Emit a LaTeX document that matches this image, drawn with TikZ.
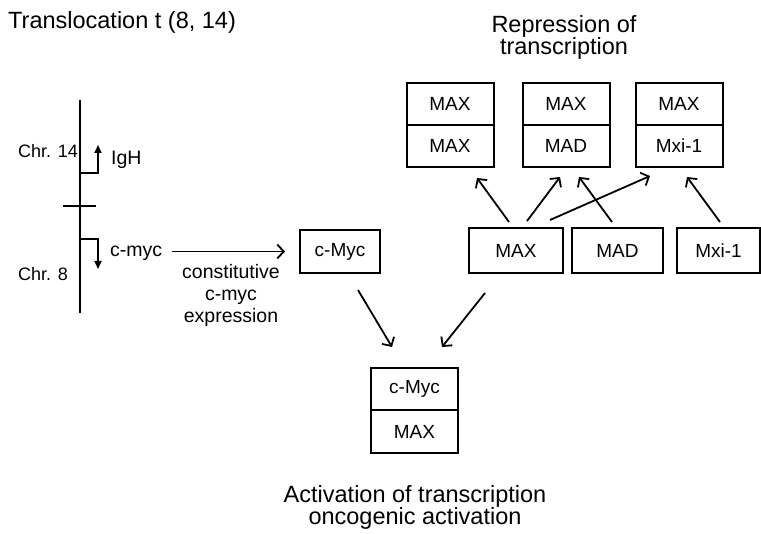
\documentclass[tikz,border=0pt]{standalone}
\usepackage{fontspec}
\setmainfont{Liberation Sans}
\usetikzlibrary{arrows.meta, positioning}

\begin{document}
\begin{tikzpicture}[
  x=1pt, y=-1pt,
  cell/.style={rectangle, draw, line width=2pt, outer sep=0pt, inner sep=0pt, minimum width=87pt, minimum height=42pt, font=\fontsize{19}{21}\selectfont},
  prot/.style={cell, minimum height=45pt},
  arr/.style={line width=1.8pt, -{Straight Barb[length=6.5pt,width=14pt]}},
  gene/.style={line width=1.8pt, -{Triangle[length=8pt,width=7pt]}},
  lbl/.style={font=\fontsize{19.5}{22}\selectfont, align=center, inner sep=0pt},
  chr/.style={font=\fontsize{18}{20}\selectfont, inner sep=0pt},
  head/.style={font=\fontsize{23.5}{21.5}\selectfont, align=center, inner sep=0pt}
]
\useasboundingbox (0,0) rectangle (761,534);

% Title
\node[head, anchor=base west] (title) at (8,29) {Translocation t (8, 14)};

% Chromosome
\coordinate (chrtop) at (80,100);
\coordinate (chrbot) at (80,313);
\coordinate (brk) at (80,206);
\draw[line width=2pt] (chrtop) -- (chrbot);
\draw[line width=1.6pt] ([xshift=-17pt]brk) -- ([xshift=16pt]brk);
\coordinate (ighstart) at (80,173);
\coordinate (mycstart) at (80,239);
\draw[gene] (ighstart) -| ++(18,-28);
\draw[gene] (mycstart) -| ++(18,30);
\node[chr, anchor=base west] (chr14) at (18,158) {Chr. 14};
\node[chr, anchor=base west] (chr8) at (18,281) {Chr. 8};
\node[lbl, anchor=base west] (igh) at (111,165) {IgH};
\node[lbl, anchor=base west] (cmycgene) at (110,257) {c-myc};

% c-Myc protein
\node[prot, minimum width=80pt, minimum height=43pt] (cmyc) at (340,251.5) {c-Myc};
\node[lbl, anchor=base] (expr) at (231,323) {constitutive\\c-myc\\expression};

% Partners
\node[prot, minimum width=94pt] (max) at (516,250.5) {MAX};
\node[prot, minimum width=91pt, right=9pt of max] (mad) {MAD};
\node[prot, minimum width=83pt, right=14pt of mad] (mxi) {Mxi-1};

% Repressor dimers
\node[cell] (mmT) at (450,104) {MAX};
\node[cell, below=0pt of mmT] (mmB) {MAX};
\node[cell] (mdT) at (566,104) {MAX};
\node[cell, below=0pt of mdT] (mdB) {MAD};
\node[cell] (mxT) at (679,104) {MAX};
\node[cell, below=0pt of mxT] (mxB) {Mxi-1};
\node[head, anchor=base] (repr) at (564,55) {Repression of\\transcription};

% Activator dimer
\node[cell] (cxT) at (414.5,389) {c-Myc};
\node[cell, below=0pt of cxT, minimum height=43pt] (cxB) {MAX};
\node[head, anchor=base] (activ) at (415,525) {Activation of transcription\\oncogenic activation};

% Arrows
\draw[arr, shorten <=10pt] (cmycgene.east |- cmyc.west) -- ([xshift=-15pt]cmyc.west);
\draw[arr] ([xshift=-7pt,yshift=6pt]max.north) -- ([xshift=27pt,yshift=-11pt]mmB.south);
\draw[arr] ([xshift=11pt,yshift=7pt]max.north) -- ([xshift=-6pt,yshift=-10pt]mdB.south);
\draw[arr] ([xshift=34pt,yshift=8pt]max.north) -- ([xshift=-29pt,yshift=-9pt]mxB.south);
\draw[arr] ([xshift=-5.5pt,yshift=6pt]mad.north) -- ([xshift=13pt,yshift=-10pt]mdB.south);
\draw[arr] ([xshift=1.5pt,yshift=6pt]mxi.north) -- ([xshift=8pt,yshift=-10pt]mxB.south);
\draw[arr] ([xshift=18pt,yshift=-17pt]cmyc.south) -- ([xshift=-22.5pt,yshift=21pt]cxT.north);
\draw[arr] ([xshift=-31pt,yshift=-20pt]max.south) -- ([xshift=27.5pt,yshift=21pt]cxT.north);

\end{tikzpicture}
\end{document}
